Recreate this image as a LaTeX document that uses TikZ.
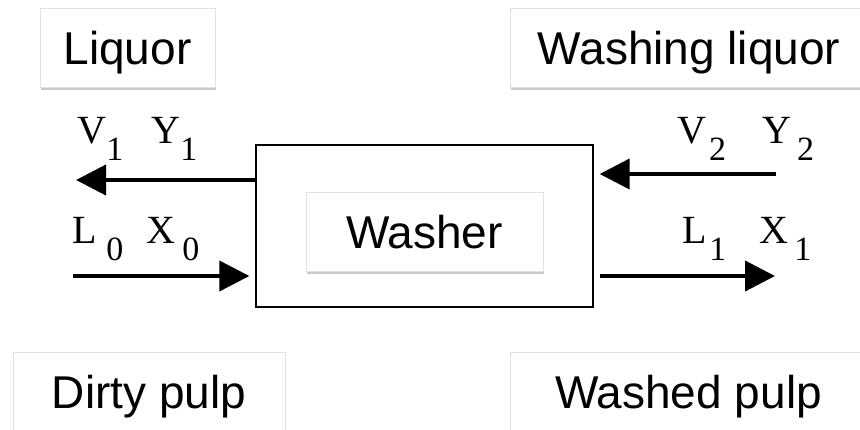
\documentclass[tikz,border=0pt]{standalone}
\usepackage{fontspec}
\setmainfont{Liberation Serif}
\newfontfamily\arialf{Liberation Sans}
\usetikzlibrary{arrows.meta,shadows}
\newcommand\subf{\fontsize{34}{34}\selectfont}
\newcommand\subx[1]{\raisebox{-17pt}{\subf #1}}
\begin{document}
\begin{tikzpicture}[x=1pt,y=-1pt,
  tag/.style={draw=black!12, line width=0.8pt, fill=white,
    font=\arialf\fontsize{46}{50}\selectfont, text height=33pt, text depth=0pt,
    inner sep=0pt, minimum height=79pt,
    drop shadow={shadow xshift=0.5pt, shadow yshift=-2.5pt, opacity=0.35, fill=black!60}},
  sym/.style={anchor=base west, inner sep=0pt, font=\fontsize{40}{40}\selectfont},
  flow/.style={line width=4pt, -{Triangle[length=30pt,width=30pt]}},
  unit/.style={draw, line width=1.3pt, minimum width=337pt, minimum height=162pt, inner sep=0pt}]
\useasboundingbox (0,0) rectangle (860,429);
\clip (0,0) rectangle (860,429);
\fill[white] (0,0) rectangle (860,429);

% washer unit
\node[unit] (washer) at (424.5,226) {};
\node[tag, minimum width=237pt] (washerlabel) at (424.5,231.5) {Washer};

% stream tags
\node[tag, minimum width=175pt] (liquor) at (127.5,47.5) {Liquor};
\node[tag, minimum width=358pt] (washliq) at (689,47.5) {Washing liquor};
\node[tag, minimum width=272pt] (dirty) at (149,391.5) {Dirty pulp};
\node[tag, minimum width=357pt] (washed) at (688.5,391.5) {Washed pulp};

% symbols
\node[sym] (v1y1) at (77.4,143) {V\subx{1}\kern28pt Y\subx{1}};
\node[sym] (v2y2) at (677.4,143) {V\kern2.7pt\subx{2}\kern36pt Y\kern6pt\subx{2}};
\node[sym] (l0x0) at (72.5,243) {L\kern9.3pt\subx{0}\kern23.4pt X\kern6.7pt\subx{0}};
\node[sym] (l1x1) at (682.5,243) {L\kern2.3pt\subx{1}\kern33.4pt X\kern5.7pt\subx{1}};

% flows
\coordinate (v1end) at (76,180);
\coordinate (v2start) at (776,174);
\coordinate (l0start) at (73,276);
\coordinate (l1end) at (775,276);
\draw[flow] (washer.west |- v1end) -- (v1end);
\draw[flow, shorten >=6pt] (v2start) -- (washer.east |- v2start);
\draw[flow, shorten >=6pt] (l0start) -- (washer.west |- l0start);
\draw[flow, shorten <=6pt] (washer.east |- l1end) -- (l1end);
\end{tikzpicture}
\end{document}
